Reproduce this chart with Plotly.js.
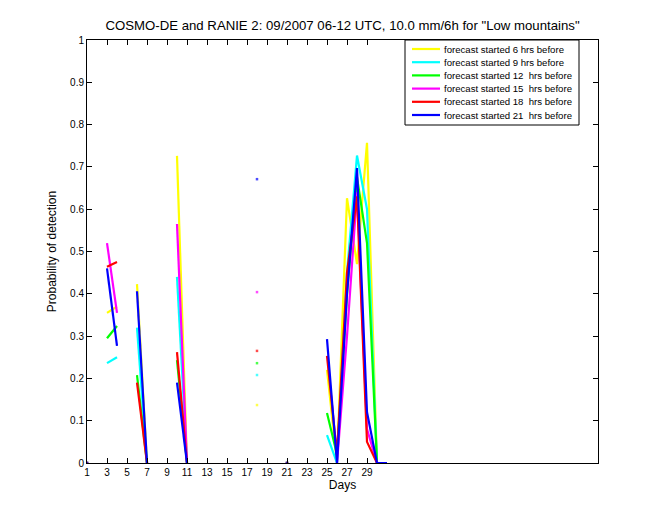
<!DOCTYPE html>
<html>
<head>
<meta charset="utf-8">
<script src="https://cdn.plot.ly/plotly-3.0.1.min.js"></script>
<style>
html,body{margin:0;padding:0;background:#fff;}
#chart{width:660px;height:520px;}
</style>
</head>
<body>
<div id="chart"></div>
<script>
const N = null;
const days = [1,2,3,4,5,6,7,8,9,10,11,12,13,14,15,16,17,18,19,20,21,22,23,24,25,26,27,28,29,30,31];
const seriesNames = [
  "forecast started 6 hrs before",
  "forecast started 9 hrs before",
  "forecast started 12  hrs before",
  "forecast started 15  hrs before",
  "forecast started 18  hrs before",
  "forecast started 21  hrs before"
];
const seriesColors = ["#ffff00", "#00ffff", "#00ff00", "#ff00ff", "#ff0000", "#0000ff"];
//              1  2  3      4      5  6      7  8  9  10     11 12 13 14 15 16 17 18     19 20 21 22 23 24 25     26    27     28     29     30 31
const pod06 = [0, N, 0.355, 0.370, N, 0.423, 0, N, N, 0.726, 0, N, N, N, N, N, N, 0.137, N, N, 0, N, N, N, 0.220, 0.00, 0.626, 0.470, 0.757, 0, 0];
const pod09 = [0, N, 0.236, 0.250, N, 0.320, 0, N, N, 0.440, 0, N, N, N, N, N, N, 0.208, N, N, 0, N, N, N, 0.066, 0.00, 0.450, 0.727, 0.600, 0, 0];
const pod12 = [0, N, 0.295, 0.324, N, 0.208, 0, N, N, 0.243, 0, N, N, N, N, N, N, 0.236, N, N, 0, N, N, N, 0.118, 0.02, 0.400, 0.676, 0.520, 0, 0];
const pod15 = [0, N, 0.520, 0.355, N, N,     0, N, N, 0.565, 0, N, N, N, N, N, N, 0.404, N, N, 0, N, N, N, N,     0.00, 0.300, 0.640, 0.080, 0, 0];
const pod18 = [0, N, 0.464, 0.475, N, 0.190, 0, N, N, 0.262, 0, N, N, N, N, N, N, 0.265, N, N, 0, N, N, N, 0.253, 0.02, 0.450, 0.630, 0.050, 0, 0];
const pod21 = [0, N, 0.460, 0.277, N, 0.406, 0, N, N, 0.190, 0, N, N, N, N, N, N, 0.671, N, N, 0, N, N, N, 0.293, 0.00, 0.400, 0.697, 0.120, 0, 0];
const allSeries = [pod06, pod09, pod12, pod15, pod18, pod21];
const xTicks = [1,3,5,7,9,11,13,15,17,19,21,23,25,27,29];
const yTicks = [0,0.1,0.2,0.3,0.4,0.5,0.6,0.7,0.8,0.9,1];
const yTickText = ["0","0.1","0.2","0.3","0.4","0.5","0.6","0.7","0.8","0.9","1"];

function isolatedSizes(v){
  return v.map((y,i)=>{
    if (y === null) return 0;
    const prev = i>0 ? v[i-1] : null;
    const next = i<v.length-1 ? v[i+1] : null;
    return (prev === null && next === null) ? 2.5 : 0;
  });
}

const traces = allSeries.map((v,k)=>({
  x: days, y: v, type: "scatter", mode: "lines+markers",
  name: seriesNames[k], showlegend: false,
  line: {color: seriesColors[k], width: 2.2},
  marker: {color: seriesColors[k], size: isolatedSizes(v), symbol: "square", line: {width: 0}},
  connectgaps: false
}));

const font = "Liberation Sans, Arial, Helvetica, sans-serif";

// Plot area in pixels: left 87, right 598, top 40, bottom 463
const plotL = 87, plotW = 511, plotB = 463, plotH = 423;
const px2x = p => (p - plotL) / plotW;
const px2y = p => (plotB - p) / plotH;

// Legend drawn as shapes + annotations in paper coordinates
const legBox = {l: 405, r: 579, t: 40, b: 125};
const legRow0 = 49, legRowStep = 13.2, legLineL = 412, legLineR = 440, legTextL = 442;
const shapes = [{
  type: "rect", xref: "paper", yref: "paper", layer: "above",
  x0: px2x(legBox.l), x1: px2x(legBox.r), y0: px2y(legBox.b), y1: px2y(legBox.t),
  fillcolor: "#fff", line: {color: "#000", width: 1}
}];
const annotations = [];
seriesNames.forEach((name,k)=>{
  const yy = px2y(legRow0 + k*legRowStep);
  shapes.push({type: "line", xref: "paper", yref: "paper", layer: "above",
    x0: px2x(legLineL), x1: px2x(legLineR), y0: yy, y1: yy,
    line: {color: seriesColors[k], width: 2.2}});
  annotations.push({xref: "paper", yref: "paper", x: px2x(legTextL), y: yy,
    xanchor: "left", yanchor: "middle", showarrow: false, text: name,
    font: {family: font, size: 9.6, color: "#000"}});
});

const layout = {
  width: 660, height: 520,
  margin: {l: 87, r: 62, t: 40, b: 57},
  paper_bgcolor: "#fff", plot_bgcolor: "#fff",
  font: {family: font, size: 10, color: "#000"},
  title: {text: 'COSMO-DE and RANIE 2: 09/2007 06-12 UTC, 10.0 mm/6h for "Low mountains"',
          font: {family: font, size: 13.2, color: "#000"}, x: 0.519, xanchor: "center", y: 0.951, yanchor: "middle"},
  showlegend: false,
  shapes: shapes,
  annotations: annotations,
  xaxis: {
    range: [1, 52.1], tickmode: "array", tickvals: xTicks, ticktext: xTicks.map(String),
    ticks: "inside", ticklen: 5, tickwidth: 1, tickcolor: "#000",
    showline: true, linecolor: "#000", linewidth: 1, mirror: "ticks",
    showgrid: false, zeroline: false,
    tickfont: {family: font, size: 10, color: "#000"},
    title: {text: "Days", font: {family: font, size: 12, color: "#000"}, standoff: 3}
  },
  yaxis: {
    range: [0, 1], tickmode: "array", tickvals: yTicks, ticktext: yTickText,
    ticks: "inside", ticklen: 5, tickwidth: 1, tickcolor: "#000",
    showline: true, linecolor: "#000", linewidth: 1, mirror: "ticks",
    showgrid: false, zeroline: false,
    tickfont: {family: font, size: 10, color: "#000"},
    title: {text: "Probability of detection", font: {family: font, size: 12, color: "#000"}, standoff: 10}
  }
};

Plotly.newPlot("chart", traces, layout, {displayModeBar: false, staticPlot: true});
</script>
</body>
</html>
